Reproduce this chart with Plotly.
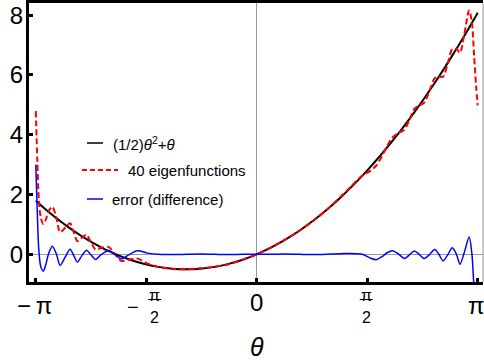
import numpy as np
import plotly.graph_objects as go

# ---------------- data ----------------
theta = [-3.1416, -3.12, -3.10, -3.07, -3.034, -3.0, -2.96, -2.906, -2.85, -2.796,
         -2.72, -2.654, -2.60, -2.55, -2.49, -2.42, -2.37, -2.29, -2.22, -2.11,
         -2.02, -1.93, -1.82, -1.70, -1.55, -1.40, -1.2, -1.0, -0.8, -0.6,
         -0.4, -0.2, 0.0, 0.2, 0.4, 0.6, 0.8, 1.0, 1.2, 1.34,
         1.5, 1.62, 1.70, 1.78, 1.86, 1.93, 2.01, 2.10, 2.17, 2.24,
         2.31, 2.38, 2.46, 2.53, 2.59, 2.65, 2.72, 2.78, 2.84, 2.89,
         2.95, 3.02, 3.06, 3.09, 3.12, 3.1416]

exact = [1.793, 1.747, 1.705, 1.642, 1.569, 1.500, 1.421, 1.316, 1.211, 1.113,
         0.979, 0.868, 0.780, 0.701, 0.610, 0.508, 0.438, 0.332, 0.244, 0.116,
         0.020, -0.068, -0.164, -0.255, -0.349, -0.420, -0.480, -0.500, -0.480, -0.420,
         -0.320, -0.180, 0.000, 0.220, 0.480, 0.780, 1.120, 1.500, 1.920, 2.238,
         2.625, 2.932, 3.145, 3.364, 3.590, 3.792, 4.030, 4.305, 4.524, 4.749,
         4.978, 5.212, 5.486, 5.730, 5.944, 6.161, 6.419, 6.644, 6.873, 7.066,
         7.301, 7.580, 7.742, 7.864, 7.987, 8.076]

approx = [4.79, 3.15, 1.91, 1.22, 1.01, 1.15, 1.44, 1.59, 1.23, 0.74,
          0.90, 1.04, 0.73, 0.44, 0.55, 0.65, 0.46, 0.16, 0.21, 0.25,
          0.02, -0.22, -0.18, -0.14, -0.31, -0.42, -0.49, -0.50, -0.47, -0.42,
          -0.33, -0.18, 0.00, 0.22, 0.49, 0.78, 1.11, 1.50, 1.94, 2.27,
          2.63, 2.80, 2.97, 3.28, 3.65, 3.91, 4.05, 4.17, 4.50, 4.86,
          4.98, 5.07, 5.49, 5.89, 5.94, 5.94, 6.42, 6.86, 6.87, 6.74,
          7.35, 8.16, 7.74, 6.66, 5.59, 4.98]

error = [3.00, 1.40, 0.20, -0.42, -0.56, -0.35, 0.02, 0.27, 0.02, -0.37,
         -0.08, 0.17, -0.05, -0.26, -0.06, 0.14, 0.02, -0.17, -0.03, 0.13,
         0.00, -0.15, -0.02, 0.12, 0.04, 0.00, -0.01, 0.00, 0.01, 0.00,
         -0.01, 0.00, 0.00, 0.00, 0.01, 0.00, -0.01, 0.00, 0.02, 0.03,
         0.00, -0.13, -0.18, -0.08, 0.06, 0.12, 0.02, -0.14, -0.02, 0.11,
         0.00, -0.14, 0.00, 0.16, 0.00, -0.22, 0.00, 0.22, 0.00, -0.33,
         0.05, 0.58, 0.00, -1.20, -2.40, -3.10]

x_ticks = [-np.pi, -np.pi / 2, 0, np.pi / 2, np.pi]
y_ticks = [0, 2, 4, 6, 8]
legend_labels = ["(1/2)<i>\u03b8</i><sup>2</sup>+<i>\u03b8</i>",
                 "40 eigenfunctions", "error (difference)"]
x_title = "<i>\u03b8</i>"

# ---------------- layout geometry ----------------
W, H = 484, 364
ML, MR, MT, MB = 29, 1, 3, 82
PW, PH = W - ML - MR, H - MT - MB
XR = [-3.238, 3.217]
YR = [-0.926, 8.405]
FONT = "Liberation Sans, Arial, sans-serif"
BASE = H - MB  # pixel row of the bottom axis


def px_x(px):
    return (px - ML) / PW


def px_y(py):
    return (H - MB - py) / PH


def data_dx(dpx):
    return dpx * (XR[1] - XR[0]) / PW


fig = go.Figure()
fig.add_trace(go.Scatter(x=theta, y=exact, mode="lines", name=legend_labels[0],
                         line=dict(color="black", width=2, shape="spline", smoothing=0.8),
                         showlegend=False))
fig.add_trace(go.Scatter(x=theta, y=approx, mode="lines", name=legend_labels[1],
                         line=dict(color="#ff0000", width=2, dash="6px,3px",
                                   shape="spline", smoothing=0.8),
                         showlegend=False))
fig.add_trace(go.Scatter(x=theta, y=error, mode="lines", name=legend_labels[2],
                         line=dict(color="#0000ff", width=1.5, shape="spline", smoothing=0.8),
                         showlegend=False))

annotations = []
shapes = []


def label(x, py, text, size, xshift=0, italic=False):
    annotations.append(dict(x=x, y=0, xref="x", yref="paper", xshift=xshift,
                            yshift=BASE - py, text=text, showarrow=False,
                            font=dict(family=FONT, size=size, color="black",
                                      style="italic" if italic else "normal"),
                            xanchor="center", yanchor="middle"))


# x tick labels
label(x_ticks[0], 305, "\u2212\u2009\u03c0", 24, xshift=-1)
label(x_ticks[2], 302.5, "0", 24)
label(x_ticks[4], 305, "\u03c0", 24, xshift=-1.5)

# fraction tick labels for -pi/2 and pi/2
for val, xs, minus in [(x_ticks[1], 8.5, True), (x_ticks[3], -1, False)]:
    label(val, 295, "\u03c0", 16, xshift=xs)
    label(val, 317.5, "2", 16, xshift=xs)
    shapes.append(dict(type="line", xref="x", yref="paper",
                       x0=val + data_dx(xs - 6.5), x1=val + data_dx(xs + 6.5),
                       y0=px_y(299.5), y1=px_y(299.5),
                       line=dict(color="black", width=1)))
    if minus:
        label(val, 307, "\u2212", 20, xshift=-13.5)

# axis title
label(0, 347, x_title, 25)

# manual legend
leg = [
    (87, 103, 143, 111, dict(color="black", width=1.5)),
    (82, 118, 170, 126, dict(color="#ff0000", width=2, dash="5px,3px")),
    (87, 103, 199, 110, dict(color="#0000ff", width=1.5)),
]
for (x0, x1, yy, tx, ln), lab in zip(leg, legend_labels):
    shapes.append(dict(type="line", xref="paper", yref="paper",
                       x0=px_x(x0), x1=px_x(x1), y0=px_y(yy), y1=px_y(yy), line=ln))
    annotations.append(dict(x=px_x(tx), y=px_y(yy), xref="paper", yref="paper",
                            text=lab, showarrow=False, xanchor="left", yanchor="middle",
                            font=dict(family=FONT, size=15, color="black")))

# thin grey right frame
shapes.append(dict(type="line", xref="paper", yref="paper", x0=1, x1=1, y0=0, y1=1,
                   line=dict(color="#999999", width=1)))

fig.update_layout(
    width=W, height=H,
    margin=dict(l=ML, r=MR, t=MT, b=MB, pad=0),
    paper_bgcolor="white", plot_bgcolor="white",
    showlegend=False,
    annotations=annotations, shapes=shapes,
    xaxis=dict(range=XR, tickvals=x_ticks, showticklabels=False,
               ticks="inside", ticklen=4, tickwidth=3, tickcolor="black",
               showline=True, linewidth=3, linecolor="black", mirror=True,
               showgrid=False, zeroline=True, zerolinecolor="#999999", zerolinewidth=1),
    yaxis=dict(range=YR, tickvals=y_ticks, ticklabelstandoff=-2,
               ticks="inside", ticklen=4, tickwidth=3, tickcolor="black",
               showline=True, linewidth=3, linecolor="black",
               showgrid=False, zeroline=True, zerolinecolor="#999999", zerolinewidth=1,
               tickfont=dict(family=FONT, size=24, color="black")),
)

fig.write_html("out.html")
